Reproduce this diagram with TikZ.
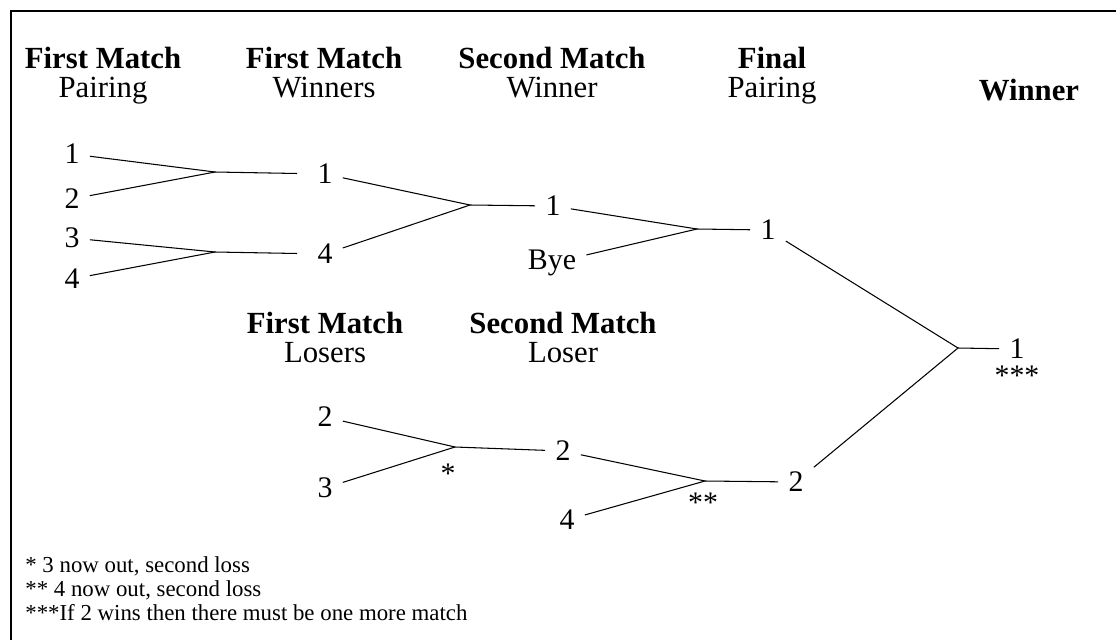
\documentclass[tikz,border=0pt]{standalone}
\usepackage{fontspec}
\setmainfont{Liberation Serif}

\begin{document}
\begin{tikzpicture}[x=0.02cm, y=-0.02cm,
  head/.style={align=center, inner sep=0pt, anchor=north, font=\fontsize{17.5}{16.4}\selectfont},
  num/.style={inner sep=0.2cm, font=\fontsize{17}{17}\selectfont},
  starlabel/.style={inner sep=0pt, font=\fontsize{17}{17}\selectfont},
  note/.style={inner sep=0pt, anchor=base west, font=\fontsize{13}{13}\selectfont},
  line/.style={line width=0.6pt}]

\useasboundingbox (0,0) rectangle (1116,640);
\draw[line width=1.7pt] (11,640) -- (11,11) -- (1116,11);

\node[head] (h1) at (103,47) {\textbf{First Match}\\Pairing};
\node[head] (h2) at (324,47) {\textbf{First Match}\\Winners};
\node[head] (h3) at (552,47) {\textbf{Second Match}\\Winner};
\node[head] (h4) at (772,47) {\textbf{Final}\\Pairing};
\node[head] (h5) at (1029,79) {\textbf{Winner}};
\node[head] (h6) at (325,312) {\textbf{First Match}\\Losers};
\node[head] (h7) at (563,312) {\textbf{Second Match}\\Loser};

\node[num] (p1) at (72,154) {1};
\node[num] (p2) at (72,199) {2};
\node[num] (p3) at (72,238) {3};
\node[num] (p4) at (72,279) {4};
\node[num] (w1) at (325,174) {1};
\node[num] (w4) at (325,254) {4};
\node[num] (s1) at (553,206) {1};
\node[num] (bye) at (552,263) {Bye};
\node[num] (f1) at (768,230) {1};
\node[num] (win) at (1017,349) {1};
\node[starlabel] (m3) at (1017,376) {***};

\node[num] (l2) at (325,417) {2};
\node[num] (l3) at (325,488) {3};
\node[num] (ls2) at (563,451) {2};
\node[num] (l4) at (567,520) {4};
\node[num] (f2) at (796,482) {2};
\node[starlabel] (m1) at (448,474) {*};
\node[starlabel] (m2) at (703,503) {**};

\coordinate (j1) at (215,172);
\coordinate (j2) at (215,252);
\coordinate (j3) at (470,205);
\coordinate (j4) at (697,229);
\coordinate (j5) at (958,348);
\coordinate (j6) at (455,447);
\coordinate (j7) at (705,481);

%winners side
\draw[line] (p1) to (j1);
\draw[line] (p2) to (j1);
\draw[line] (p3) to (j2);
\draw[line] (p4) to (j2);
\draw[line, shorten >=0.2cm] (j1) to (w1);
\draw[line, shorten >=0.2cm] (j2) to (w4);
\draw[line] (w1) to (j3);
\draw[line] (w4) to (j3);
\draw[line] (j3) to (s1);
\draw[line] (s1) to (j4);
\draw[line] (bye) to (j4);
\draw[line] (j4) to (f1);
\draw[line] (f1) to (j5);
\draw[line] (j5) to (win);

%losers side
\draw[line] (l2) to (j6);
\draw[line] (l3) to (j6);
\draw[line] (j6) to (ls2);
\draw[line] (ls2) to (j7);
\draw[line] (l4) to (j7);
\draw[line] (j7) to (f2);
\draw[line] (f2) to (j5);

\node[note] (n1) at (25,572) {* 3 now out, second loss};
\node[note] (n2) at (25,596) {** 4 now out, second loss};
\node[note] (n3) at (25,620) {***If 2 wins then there must be one more match};

\end{tikzpicture}
\end{document}
